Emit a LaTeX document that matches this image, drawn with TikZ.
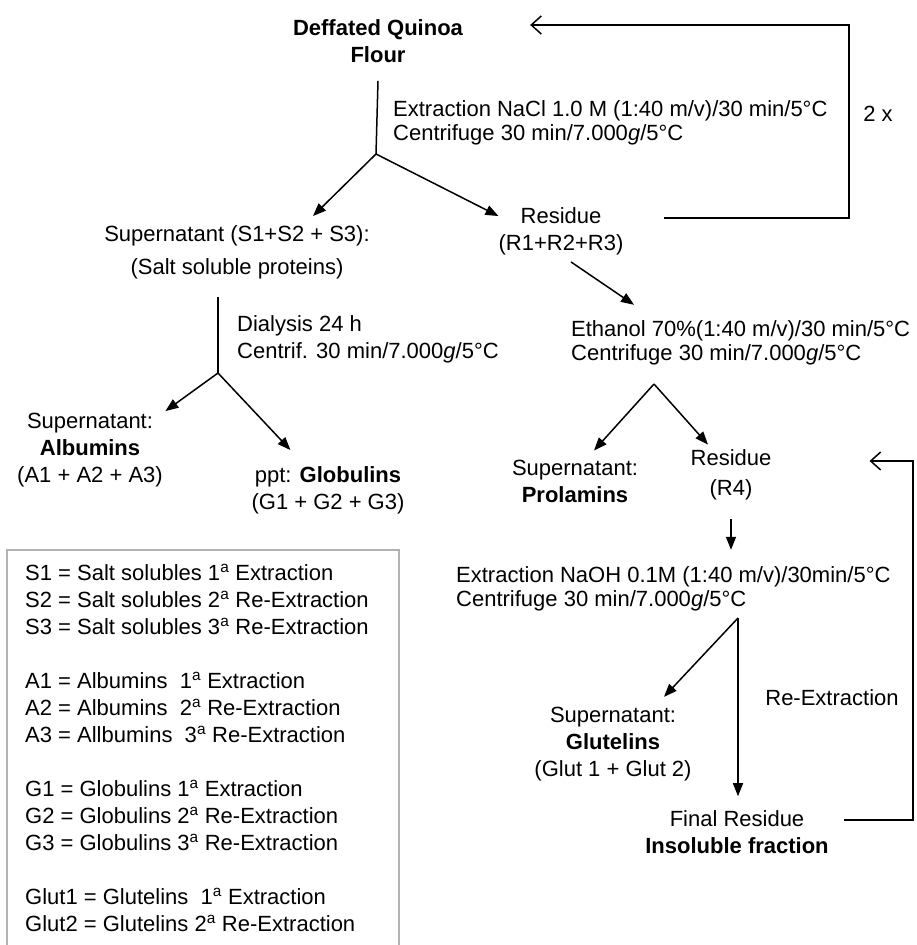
\documentclass[tikz,border=0pt]{standalone}
\usepackage{fontspec}
\setmainfont{Liberation Sans}
\usetikzlibrary{arrows.meta, positioning}

\newcommand{\lblfont}{\fontsize{22}{27}\selectfont}
\newcommand{\condfont}{\fontsize{22}{23.5}\selectfont}

\tikzset{
  txt/.style={font=\lblfont, align=center, inner sep=0pt},
  cond/.style={font=\condfont, align=left, anchor=west, inner sep=0pt},
  arr/.style={line width=1.5pt, -{Triangle[length=13pt,width=10pt]}},
  back/.style={line width=1.5pt, -{Straight Barb[length=10pt,width=18pt]}},
}

\begin{document}
\begin{tikzpicture}[x=1pt, y=-1pt]  % Begins the flow chart, one unit per pixel
  \useasboundingbox (0,0) rectangle (917,945);  % Fixes the page size
  % Salt extraction
  \node[txt, font=\lblfont\bfseries] (flour) at (378,41) {Deffated Quinoa\\Flour};
  \node[cond] (nacl) at (393,123) {Extraction NaCl 1.0 M (1:40 m/v)/30 min/5°C\\Centrifuge 30 min/7.000\textit{g}/5°C};
  \coordinate (split1) at (376,154);
  \node[txt] (salt) at (237,252) {Supernatant (S1+S2 + S3):\\[6pt](Salt soluble proteins)};
  \node[txt] (res1) at (561,231) {Residue\\(R1+R2+R3)};
  \node[txt] (twice) at (878,114) {2 x};
  \draw[line width=1.5pt] ([yshift=-18pt]flour.south) -- (split1);  % Stem below the flour
  \draw[arr] (split1) -- ([xshift=76pt,yshift=9pt]salt.north);  % To the supernatant
  \draw[arr] (split1) -- ([yshift=-9pt]res1.north west);  % To the residue
  \coordinate (ret1) at (849,25);
  \draw[back, shorten >=67pt] ([xshift=40pt,yshift=13pt]res1.east) -| (ret1) -- (ret1 -| flour.east);  % Repeats twice
  % Albumins and globulins
  \node[cond, font=\lblfont] (dial) at (237,339) {Dialysis 24 h\\Centrif. 30 min/7.000\textit{g}/5°C};
  \coordinate (split2) at (218,373);
  \node[txt] (alb) at (90,450) {Supernatant:\\\textbf{Albumins}\\(A1 + A2 + A3)};
  \node[txt] (glob) at (328,490) {ppt: \textbf{Globulins}\\(G1 + G2 + G3)};
  \draw[line width=1.5pt] ([yshift=-18pt]salt.south -| split2) -- (split2);  % Stem below the supernatant
  \draw[arr, shorten >=3pt] (split2) -- (alb.north east);
  \draw[arr, shorten >=22pt] (split2) -- (glob);
  % Ethanol extraction
  \node[cond] (etoh) at (571,343) {Ethanol 70\%(1:40 m/v)/30 min/5°C\\Centrifuge 30 min/7.000\textit{g}/5°C};
  \coordinate (split3) at (654,384);
  \node[txt] (prol) at (575,481) {Supernatant:\\\textbf{Prolamins}};
  \node[txt] (res2) at (731,475) {Residue\\[3pt](R4)};
  \draw[arr] ([xshift=10pt,yshift=-7pt]res1.south) -- ([xshift=63pt,yshift=16pt]etoh.north west);
  \draw[arr] (split3) -- ([xshift=19pt,yshift=9pt]prol.north);
  \draw[arr] (split3) -- ([xshift=-23pt,yshift=5pt]res2.north);
  % Alkaline extraction
  \node[cond] (naoh) at (456,589) {Extraction NaOH 0.1M (1:40 m/v)/30min/5°C\\Centrifuge 30 min/7.000\textit{g}/5°C};
  \draw[arr, shorten <=19pt, shorten >=17pt] (res2.south) -- (res2.south |- naoh.north);
  \coordinate (split4) at (738,618);
  \node[txt] (glut) at (613,744) {Supernatant:\\\textbf{Glutelins}\\(Glut 1 + Glut 2)};
  \node[txt] (final) at (737,832) {Final Residue\\\textbf{Insoluble fraction}};
  \node[txt] (reext) at (832,698) {Re-Extraction};
  \draw[arr] (split4) -- ([xshift=51pt,yshift=10pt]glut.north);
  \draw[arr, shorten >=14pt] (split4) -- (split4 |- final.north);
  \coordinate (ret2) at (913,461);
  \draw[back, shorten >=98pt] ([xshift=15pt,yshift=12pt]final.east) -| (ret2) -- (ret2 -| res2.east);  % Re-extraction loop
  % Legend box
  \draw[black!30, line width=1.5pt] (7,960) |- (399,550) -- (399,960);
  \node[txt, align=left, anchor=north west] (key) at (25,564) {%
    S1 = Salt solubles 1\textsuperscript{a} Extraction\\
    S2 = Salt solubles 2\textsuperscript{a} Re-Extraction\\
    S3 = Salt solubles 3\textsuperscript{a} Re-Extraction\\[27pt]
    A1 = Albumins\ \ 1\textsuperscript{a} Extraction\\
    A2 = Albumins\ \ 2\textsuperscript{a} Re-Extraction\\
    A3 = Allbumins\ \ 3\textsuperscript{a} Re-Extraction\\[27pt]
    G1 = Globulins 1\textsuperscript{a} Extraction\\
    G2 = Globulins 2\textsuperscript{a} Re-Extraction\\
    G3 = Globulins 3\textsuperscript{a} Re-Extraction\\[27pt]
    Glut1 = Glutelins\ \ 1\textsuperscript{a} Extraction\\
    Glut2 = Glutelins 2\textsuperscript{a} Re-Extraction};
\end{tikzpicture}
\end{document}
